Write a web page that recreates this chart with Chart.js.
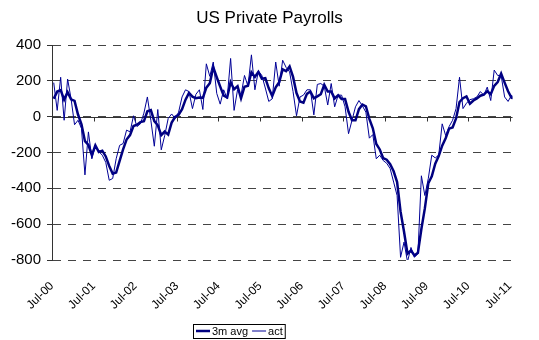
<!DOCTYPE html>
<html>
<head>
<meta charset="utf-8">
<title>US Private Payrolls</title>
<script src="https://cdn.jsdelivr.net/npm/chart.js@4.4.0/dist/chart.umd.min.js"></script>
<style>
  html, body { margin: 0; padding: 0; background: #fff; }
  #wrap { width: 539px; height: 340px; position: relative; }
</style>
</head>
<body>
<div id="wrap"><canvas id="payrollChart"></canvas></div>
<script>
// Monthly change in private payrolls (thousands), Jul-00 .. Aug-11
const act = [
  190, 35, 220, -20, 210, 100, -45, -20, -65, -325,
  -85, -235, -160, -195, -215, -255, -355, -345, -235, -160,
  -150, -75, -85, 5, -55, -40, 20, 110, -20, -165,
  40, -185, -105, -10, 15, -10, 25, 110, 150, 140,
  45, 125, 150, 40, 295, 225, 305, 130, 70, 150,
  100, 325, 35, 150, 120, 230, 170, 345, 150, 255,
  230, 160, 85, 100, 305, 170, 315, 275, 250, 140,
  5, 110, 120, 150, 150, 10, 180, 185, 170, 65,
  185, 55, 120, 120, 55, -95, -20, 55, 90, 60,
  25, -120, -100, -235, -215, -245, -260, -290, -365, -440,
  -785, -700, -810, -730, -785, -765, -330, -440, -345, -215,
  -230, -215, -40, -105, -55, -20, 45, 220, 45, 75,
  95, 100, 110, 140, 120, 165, 90, 260, 230, 230,
  110, 85, 120, 100
];

const avg3m = [
  100, 140, 148, 95, 137, 97, 88, 12, -43, -137,
  -158, -215, -160, -197, -190, -222, -275, -318, -312, -247,
  -182, -128, -103, -52, -45, -30, -25, 30, 37, -25,
  -48, -103, -83, -100, -33, -2, 10, 42, 95, 133,
  112, 103, 107, 105, 162, 187, 275, 220, 168, 117,
  107, 192, 153, 170, 102, 167, 173, 248, 222, 250,
  212, 215, 158, 115, 164, 192, 264, 254, 280, 222,
  132, 85, 78, 127, 140, 103, 113, 125, 178, 140,
  140, 102, 120, 98, 98, 27, -20, -20, 42, 68,
  58, -12, -65, -152, -183, -232, -240, -265, -305, -365,
  -530, -642, -765, -747, -775, -760, -627, -512, -372, -333,
  -263, -220, -162, -120, -67, -60, -10, 82, 103, 113,
  72, 90, 102, 117, 123, 142, 125, 172, 193, 240,
  190, 142, 105, 102
];

const tickLabels = ['Jul-00', 'Jul-01', 'Jul-02', 'Jul-03', 'Jul-04', 'Jul-05',
                    'Jul-06', 'Jul-07', 'Jul-08', 'Jul-09', 'Jul-10', 'Jul-11'];

// each month sits in the middle of its slot, the July ticks sit on the slot edge
const tickPos = tickLabels.map((_, i) => i * 12 - 0.5);

const FONT = "'Liberation Sans', Arial, sans-serif";

// solid zero line with the small year ticks hanging off it
const zeroAxis = {
    id: 'zeroAxis',
    beforeDatasetsDraw(chart) {
        const { ctx, chartArea, scales } = chart;
        const y0 = Math.round(scales.y.getPixelForValue(0)) + 0.5;
        ctx.save();
        ctx.strokeStyle = '#333';
        ctx.lineWidth = 1;
        ctx.beginPath();
        ctx.moveTo(chartArea.left, y0);
        ctx.lineTo(chartArea.right, y0);
        scales.x.ticks.forEach(t => {
            const px = Math.round(scales.x.getPixelForValue(t.value)) + 0.5;
            ctx.moveTo(px, y0);
            ctx.lineTo(px, y0 + 4);
        });
        ctx.stroke();
        ctx.restore();
    }
};

// boxed legend under the axis labels
const boxLegend = {
    id: 'boxLegend',
    afterDraw(chart) {
        const { ctx } = chart;
        const sets = chart.data.datasets;
        const left = 193, top = 324, h = 14, lineLen = 14;
        ctx.save();
        ctx.font = '11px ' + FONT;
        ctx.textBaseline = 'middle';
        let x = left + 3;
        const midY = top + h / 2;
        sets.forEach(ds => {
            ctx.strokeStyle = ds.borderColor;
            ctx.lineWidth = ds.borderWidth;
            ctx.beginPath();
            ctx.moveTo(x, midY);
            ctx.lineTo(x + lineLen, midY);
            ctx.stroke();
            x += lineLen + 2;
            ctx.fillStyle = '#000';
            ctx.fillText(ds.label, x, midY + 0.5);
            x += ctx.measureText(ds.label).width + 4;
        });
        ctx.strokeStyle = '#000';
        ctx.lineWidth = 1;
        ctx.strokeRect(left + 0.5, top + 0.5, x - left - 2, h);
        ctx.restore();
    }
};

new Chart(document.getElementById('payrollChart'), {
    type: 'line',
    data: {
        datasets: [{
            label: '3m avg',
            data: avg3m.map((v, i) => ({ x: i, y: v })),
            borderColor: '#00007f',
            borderWidth: 2.5,
            pointRadius: 0,
            tension: 0,
            order: 1
        }, {
            label: 'act',
            data: act.map((v, i) => ({ x: i, y: v })),
            borderColor: '#000096',
            borderWidth: 1,
            pointRadius: 0,
            tension: 0,
            order: 0
        }]
    },
    options: {
        responsive: true,
        maintainAspectRatio: false,
        animation: false,
        layout: { padding: { left: 0, right: 0, top: 0, bottom: 0 } },
        plugins: {
            legend: { display: false },
            tooltip: { enabled: false },
            title: {
                display: true,
                text: 'US Private Payrolls',
                color: '#000',
                font: { family: FONT, size: 17, weight: 'normal' },
                padding: { top: 8, bottom: 16.6 }
            }
        },
        scales: {
            x: {
                type: 'linear',
                min: -0.5,
                max: 132.3,
                afterBuildTicks: axis => {
                    axis.ticks = tickPos.map(v => ({ value: v }));
                },
                afterFit: axis => { axis.height = 80; },
                grid: { display: false, drawTicks: false },
                border: { display: false },
                ticks: {
                    autoSkip: false,
                    minRotation: 45,
                    maxRotation: 45,
                    padding: 19,
                    color: '#000',
                    font: { family: FONT, size: 12 },
                    callback: (value, index) => tickLabels[index]
                }
            },
            y: {
                min: -800,
                max: 400,
                afterFit: axis => { axis.width = 52; },
                grid: {
                    color: '#444',
                    lineWidth: 1,
                    tickLength: 5,
                    tickColor: '#333'
                },
                border: { display: true, color: '#333', width: 1, dash: [8, 7] },
                ticks: {
                    stepSize: 200,
                    padding: 6,
                    color: '#000',
                    font: { family: FONT, size: 15 }
                }
            }
        }
    },
    plugins: [zeroAxis, boxLegend]
});
</script>
</body>
</html>
